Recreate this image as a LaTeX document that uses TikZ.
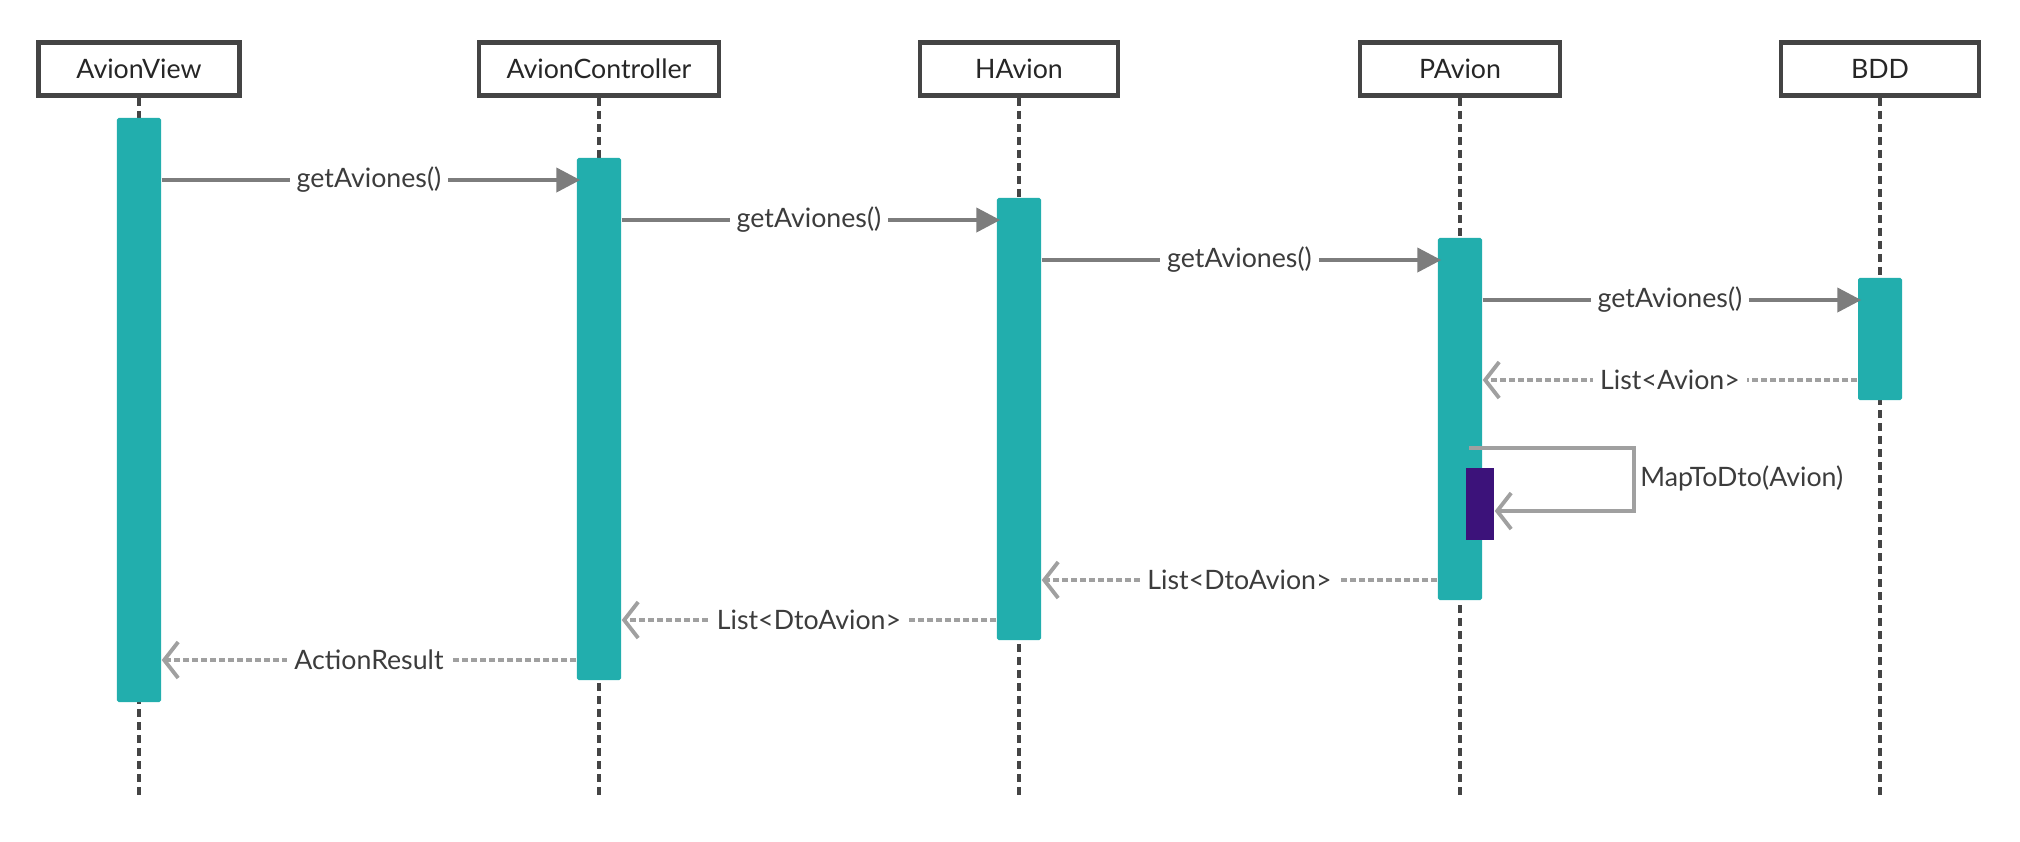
\documentclass[tikz,border=0pt]{standalone}
\usepackage{fontspec}
\setmainfont{Lato}
\usepackage{tikz}
\usetikzlibrary{arrows.meta,positioning}
\definecolor{seqteal}{RGB}{34,174,173}
\definecolor{seqpurple}{RGB}{60,18,122}
\definecolor{seqdark}{RGB}{68,68,68}
\definecolor{seqgrey}{RGB}{125,125,125}
\definecolor{seqsoft}{RGB}{160,160,160}
\definecolor{seqtext}{RGB}{60,60,60}
\tikzset{
  head/.style={
    draw=seqdark,
    line width=1.3pt,
    fill=white,
    minimum height=0.53cm,
    inner sep=0pt,
    text=black!85
  },
  life/.style={draw=seqdark, line width=1.1pt, dash pattern=on 0.08cm off 0.05cm},
  bar/.style={fill=seqteal, minimum width=0.44cm, inner sep=0pt, rounded corners=0.5pt},
  subbar/.style={fill=seqpurple, minimum width=0.28cm, inner sep=0pt},
  call/.style={-{Triangle[length=0.24cm, width=0.24cm]}, line width=1.2pt, draw=seqgrey, shorten >=-0.04cm},
  reply/.style={-{Straight Barb[length=0.14cm, width=0.36cm, line width=1.1pt]}, line width=1.2pt,
    draw=seqsoft, dash pattern=on 0.06cm off 0.03cm},
  selfcall/.style={-{Straight Barb[length=0.14cm, width=0.36cm, line width=1.1pt]}, line width=1.1pt, draw=seqsoft},
  msg/.style={fill=white, inner sep=2pt, text=seqtext}
}

\begin{document}
\begin{tikzpicture}[x=0.01cm, y=-0.01cm, every node/.style={font=\fontsize{7.6}{9}\selectfont}]
  \useasboundingbox (0,0) rectangle (2020,841);

  % lifeline heads
  \node[head, minimum width=2.01cm] (view) at (139,69) {AvionView};
  \node[head, minimum width=2.40cm] (ctrl) at (599,69) {AvionController};
  \node[head, minimum width=1.98cm] (hav) at (1019,69) {HAvion};
  \node[head, minimum width=2.00cm] (pav) at (1460,69) {PAvion};
  \node[head, minimum width=1.98cm] (bdd) at (1880,69) {BDD};

  \coordinate (end) at (0,799);
  \foreach \n in {view,ctrl,hav,pav,bdd}
    \draw[life] (\n.south) -- (\n.south |- end);

  % activations
  \node[bar, minimum height=5.84cm] (bview) at (139,410) {};
  \node[bar, minimum height=5.22cm] (bctrl) at (599,419) {};
  \node[bar, minimum height=4.42cm] (bhav) at (1019,419) {};
  \node[bar, minimum height=3.62cm] (bpav) at (1460,419) {};
  \node[bar, minimum height=1.22cm] (bbdd) at (1880,339) {};
  \node[subbar, minimum height=0.72cm] (bmap) at (1480,504) {};

  % message rows
  \coordinate (m1) at (0,180);
  \coordinate (m2) at (0,220);
  \coordinate (m3) at (0,260);
  \coordinate (m4) at (0,300);
  \coordinate (r1) at (0,380);
  \coordinate (s1) at (1469,448);
  \coordinate (s2) at (1634,448);
  \coordinate (s3) at (1634,511);
  \coordinate (r2) at (0,580);
  \coordinate (r3) at (0,620);
  \coordinate (r4) at (0,660);

  \draw[call] (bview.east |- m1) -- node[msg] {getAviones()} (bctrl.west |- m1);
  \draw[call] (bctrl.east |- m2) -- node[msg] {getAviones()} (bhav.west |- m2);
  \draw[call] (bhav.east |- m3) -- node[msg] {getAviones()} (bpav.west |- m3);
  \draw[call] (bpav.east |- m4) -- node[msg] {getAviones()} (bbdd.west |- m4);
  \draw[reply] (bbdd.west |- r1) -- node[msg] {List<Avion>} (bpav.east |- r1);
  \draw[selfcall] (s1) -- (s2) -- (s3) -- (bmap.east |- s3);
  \node[text=seqtext, anchor=west] (maplbl) at (1628,478) {MapToDto(Avion)};
  \draw[reply] (bpav.west |- r2) -- node[msg] {List<DtoAvion>} (bhav.east |- r2);
  \draw[reply] (bhav.west |- r3) -- node[msg] {List<DtoAvion>} (bctrl.east |- r3);
  \draw[reply] (bctrl.west |- r4) -- node[msg] {ActionResult} (bview.east |- r4);

\end{tikzpicture}
\end{document}
